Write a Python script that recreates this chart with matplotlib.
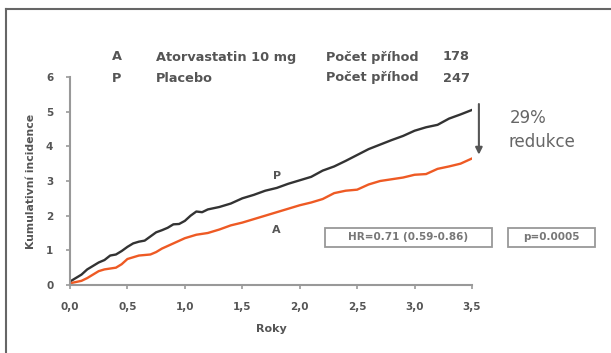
import matplotlib
matplotlib.use("Agg")
import matplotlib.pyplot as plt
from matplotlib.lines import Line2D
from matplotlib.patches import Rectangle

# Placebo curve
placebo_x = [0.0, 0.05, 0.1, 0.15, 0.2, 0.25, 0.3, 0.35, 0.4, 0.45, 0.5, 0.55, 0.6,
             0.65, 0.7, 0.75, 0.8, 0.85, 0.9, 0.95, 1.0, 1.05, 1.1, 1.15, 1.2, 1.3,
             1.4, 1.5, 1.6, 1.7, 1.8, 1.9, 2.0, 2.1, 2.2, 2.3, 2.4, 2.5, 2.6, 2.7,
             2.8, 2.9, 3.0, 3.1, 3.2, 3.3, 3.4, 3.5]
placebo_y = [0.1, 0.2, 0.3, 0.45, 0.55, 0.65, 0.72, 0.85, 0.88, 0.98, 1.1, 1.2, 1.25,
             1.28, 1.4, 1.52, 1.58, 1.65, 1.75, 1.76, 1.85, 2.0, 2.12, 2.1, 2.18, 2.25,
             2.35, 2.5, 2.6, 2.72, 2.8, 2.92, 3.02, 3.12, 3.3, 3.42, 3.58, 3.75, 3.92,
             4.05, 4.18, 4.3, 4.45, 4.55, 4.62, 4.8, 4.92, 5.05]

# Atorvastatin 10 mg curve
atorva_x = [0.0, 0.1, 0.15, 0.2, 0.25, 0.3, 0.4, 0.45, 0.5, 0.55, 0.6, 0.7, 0.75, 0.8,
            0.9, 1.0, 1.1, 1.2, 1.3, 1.4, 1.5, 1.6, 1.7, 1.8, 1.9, 2.0, 2.1, 2.2, 2.3,
            2.4, 2.5, 2.6, 2.7, 2.8, 2.9, 3.0, 3.1, 3.2, 3.3, 3.4, 3.5]
atorva_y = [0.05, 0.12, 0.2, 0.3, 0.4, 0.45, 0.5, 0.6, 0.75, 0.8, 0.85, 0.88, 0.95, 1.05,
            1.2, 1.35, 1.45, 1.5, 1.6, 1.72, 1.8, 1.9, 2.0, 2.1, 2.2, 2.3, 2.38, 2.48,
            2.65, 2.72, 2.75, 2.9, 3.0, 3.05, 3.1, 3.18, 3.2, 3.35, 3.42, 3.5, 3.65]

x_ticks = [0.0, 0.5, 1.0, 1.5, 2.0, 2.5, 3.0, 3.5]
x_labels = ["0,0", "0,5", "1,0", "1,5", "2,0", "2,5", "3,0", "3,5"]
y_ticks = [0, 1, 2, 3, 4, 5, 6]

header_rows = [("A", "Atorvastatin 10 mg", "Počet příhod", "178"),
               ("P", "Placebo", "Počet příhod", "247")]
hr_text = "HR=0.71 (0.59-0.86)"
p_text = "p=0.0005"

W, H = 611, 353
txt = "#555555"
fig = plt.figure(figsize=(W / 100, H / 100), dpi=100)

# outer frame (top + left visible)
fig.add_artist(Line2D([6 / W, 6 / W], [0, 1 - 9 / H], color="#666666", lw=1.5))
fig.add_artist(Line2D([6 / W, 1], [1 - 9 / H, 1 - 9 / H], color="#666666", lw=1.5))

ax = fig.add_axes([70 / W, 1 - 285 / H, 402 / W, 208 / H])
ax.plot(placebo_x, placebo_y, color="#333333", lw=1.7)
ax.plot(atorva_x, atorva_y, color="#ee5a24", lw=1.7)
ax.set_xlim(0, 3.5)
ax.set_ylim(0, 6)
for s in ["top", "right"]:
    ax.spines[s].set_visible(False)
for s in ["left", "bottom"]:
    ax.spines[s].set_color("#999999")
    ax.spines[s].set_linewidth(1.5)
ax.set_xticks(x_ticks)
ax.set_xticklabels(x_labels)
ax.set_yticks(y_ticks)
ax.tick_params(colors="#999999", labelcolor=txt, length=3, width=1.2, labelsize=7.5, pad=9)
for lab in ax.get_xticklabels() + ax.get_yticklabels():
    lab.set_fontweight("bold")
ax.set_xlabel("Roky", fontsize=8, fontweight="bold", color=txt, labelpad=9)
ax.set_ylabel("Kumulativní incidence", fontsize=7.8, fontweight="bold", color=txt, labelpad=7)

ax.text(1.8, 3.15, "P", fontsize=8, fontweight="bold", color=txt, ha="center", va="center")
ax.text(1.8, 1.6, "A", fontsize=8, fontweight="bold", color=txt, ha="center", va="center")

ax.annotate("", xy=(3.56, 3.68), xytext=(3.56, 5.3), annotation_clip=False,
            arrowprops=dict(arrowstyle="-|>", color="#555555", lw=1.5, mutation_scale=10))

# header table
cols = [112, 156, 326, 443]
for i, row in enumerate(header_rows):
    y = 1 - (57 + 21 * i) / H
    for x, s in zip(cols, row):
        fig.text(x / W, y, s, fontsize=9.3, fontweight="bold", color=txt, va="center")

fig.text(510 / W, 1 - 118 / H, "29%", fontsize=12, color="#666666", va="center")
fig.text(509 / W, 1 - 142 / H, "redukce", fontsize=12, color="#666666", va="center")

# boxed statistics
for (x0, x1), s in [((325, 492), hr_text), ((508, 595), p_text)]:
    fig.add_artist(Rectangle((x0 / W, 1 - 247 / H), (x1 - x0) / W, 19 / H,
                             fill=False, edgecolor="#999999", lw=1.3))
    fig.text((x0 + x1) / 2 / W, 1 - 237.5 / H, s, fontsize=7.5, fontweight="bold",
             color="#777777", ha="center", va="center")

fig.savefig("out.png", dpi=100)
